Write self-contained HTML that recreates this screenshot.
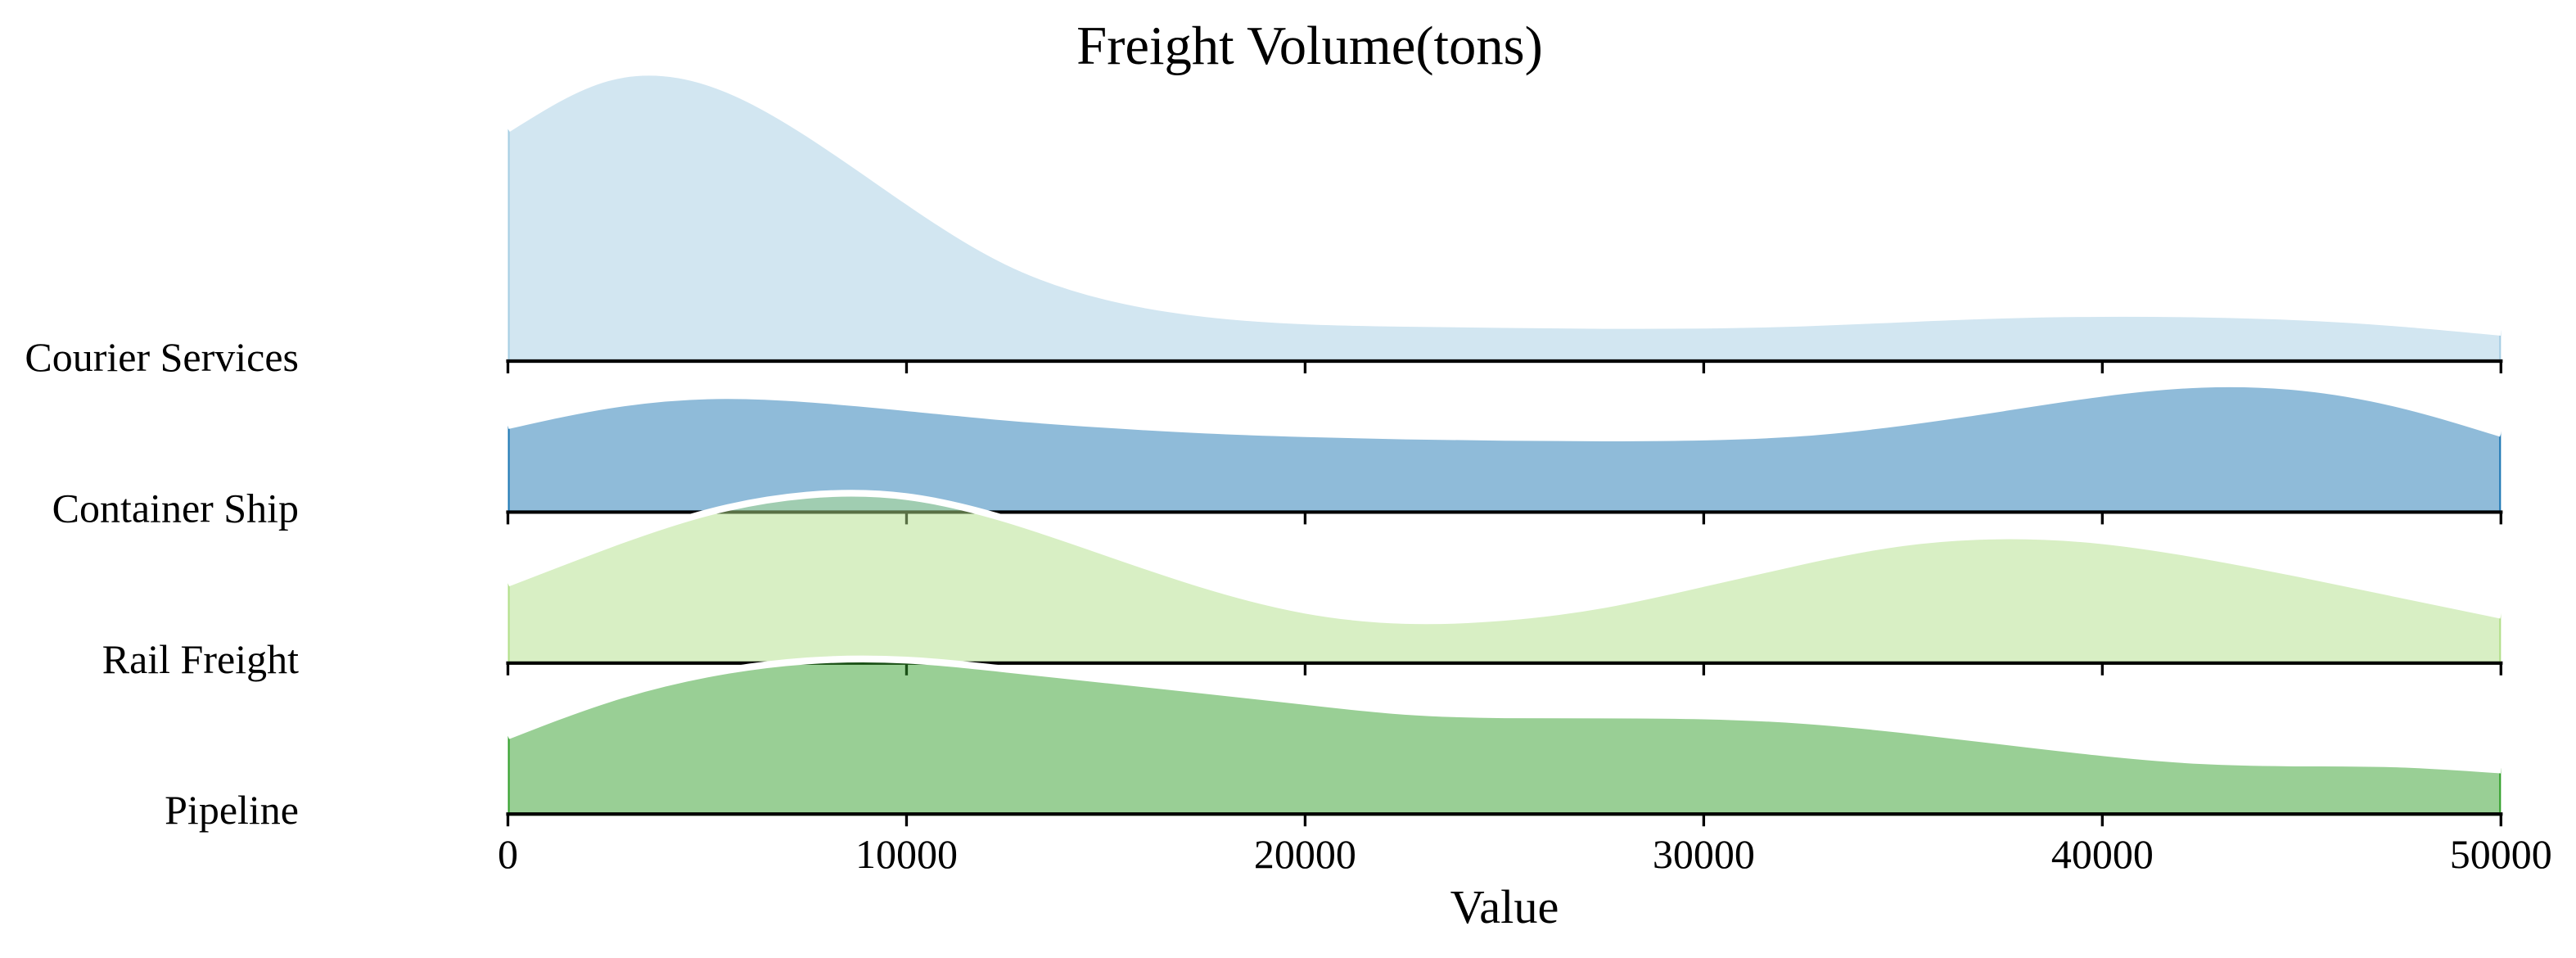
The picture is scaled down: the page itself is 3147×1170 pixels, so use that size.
<!DOCTYPE html>
<html lang="en">
<head>
<meta charset="utf-8">
<title>Freight Volume(tons)</title>
<style>
html,body{margin:0;padding:0;background:#fff;}
svg{display:block;}
text{font-family:"Liberation Serif","Times New Roman",serif;fill:#000;}
</style>
</head>
<body>
<svg id="chart" xmlns="http://www.w3.org/2000/svg" width="3147" height="1170" viewBox="0 0 3147 1170">
  <rect x="0" y="0" width="3147" height="1170" fill="#ffffff"/>
  <defs>
    <clipPath id="plot-clip"><rect x="620.5" y="0" width="2434.8" height="1170"/></clipPath>
  </defs>
  <text x="1600" y="78" text-anchor="middle" font-size="66.67">Freight Volume(tons)</text>
  <text x="1838" y="1127" text-anchor="middle" font-size="58.33">Value</text>
  <g id="plot"></g>
</svg>
<script>
// x grid of the density samples (tons)
const xGrid = [0,2500,5000,7500,10000,12500,15000,17500,20000,22500,25000,27500,30000,32500,35000,37500,40000,42500,45000,47500,50000];
const categories = ["Courier Services","Container Ship","Rail Freight","Pipeline"];
const seriesColors = ["#a6cee3","#1f78b4","#b2df8a","#33a02c"];
const xTicks = [0,10000,20000,30000,40000,50000];
// density values (x 10^-6)
const courierServices = [28.35,34.6,34.1,27.9,19.6,12.2,7.9,5.8,4.9,4.62,4.47,4.36,4.39,4.65,5.15,5.62,5.82,5.74,5.38,4.62,3.52];
const containerShip = [10.56,13.04,14.2,13.83,12.76,11.59,10.7,10.02,9.58,9.3,9.13,9.06,9.17,9.69,10.97,12.72,14.52,15.61,15.23,13.11,9.6];
const railFreight = [9.75,14.4,18.37,20.5,20.33,17.59,13.54,9.5,6.47,5.21,5.59,7.14,9.74,12.48,14.71,15.54,14.95,13.17,10.86,8.35,5.84];
const pipeline = [9.54,14.01,17.1,18.7,18.8,17.7,16.4,15.1,13.76,12.55,12.13,12.1,11.99,11.44,10.31,8.89,7.51,6.52,6.24,6.1,5.38];
const seriesValues = [courierServices,containerShip,railFreight,pipeline];

const NS = "http://www.w3.org/2000/svg";
const plot = document.getElementById("plot");
const X0 = 620.5, X1 = 3055.3, XMAX = 50000;
const BASE0 = 441, BASE_STEP = 184.4;
const PX_PER_UNIT = 10;
const TICK_LEN = 15, LW = 4.17, TICK_W = 3.33, WHITE_W = 8.33;

function xScale(v){ return X0 + (v / XMAX) * (X1 - X0); }
function baseline(i){ return BASE0 + i * BASE_STEP; }
function yScale(v, i){ return baseline(i) - v * PX_PER_UNIT; }

// natural cubic spline through the samples, emitted as Bezier segments
function curvePath(values, i){
  const px = xGrid.map(xScale);
  const py = values.map(function(v){ return yScale(v, i); });
  const n = px.length;
  const M = new Array(n).fill(0), c = new Array(n).fill(0), d = new Array(n).fill(0);
  for (let k = 1; k < n - 1; k++){
    const h0 = px[k] - px[k - 1], h1 = px[k + 1] - px[k];
    const rhs = 6 * ((py[k + 1] - py[k]) / h1 - (py[k] - py[k - 1]) / h0);
    const m = 2 * (h0 + h1) - h0 * c[k - 1];
    c[k] = h1 / m;
    d[k] = (rhs - h0 * d[k - 1]) / m;
  }
  for (let k = n - 2; k > 0; k--){
    M[k] = d[k] - c[k] * M[k + 1];
  }
  let path = "M" + px[0].toFixed(2) + " " + py[0].toFixed(2);
  for (let k = 0; k < n - 1; k++){
    const h = px[k + 1] - px[k];
    const s0 = (py[k + 1] - py[k]) / h - h * (2 * M[k] + M[k + 1]) / 6;
    const s1 = (py[k + 1] - py[k]) / h + h * (M[k] + 2 * M[k + 1]) / 6;
    path += "C" + (px[k] + h / 3).toFixed(2) + " " + (py[k] + s0 * h / 3).toFixed(2) + " " +
            (px[k + 1] - h / 3).toFixed(2) + " " + (py[k + 1] - s1 * h / 3).toFixed(2) + " " +
            px[k + 1].toFixed(2) + " " + py[k + 1].toFixed(2);
  }
  return path;
}
function slug(s){ return s.toLowerCase().replace(/\s+/g, "-"); }

categories.forEach(function(cat, i){
  const base = baseline(i);
  const key = slug(cat);
  const group = document.createElementNS(NS, "g");
  
  

  const line = curvePath(seriesValues[i], i);
  const outline = line + "L" + xScale(XMAX).toFixed(2) + " " + base + "L" + xScale(0).toFixed(2) + " " + base + "Z";

  const area = document.createElementNS(NS, "path");
  
  
  area.setAttribute("d", outline);
  area.setAttribute("fill", seriesColors[i]);
  area.setAttribute("fill-opacity", "0.5");
  area.setAttribute("stroke", seriesColors[i]);
  area.setAttribute("stroke-width", LW);
  area.setAttribute("clip-path", "url(#plot-clip)");
  group.appendChild(area);

  const crest = document.createElementNS(NS, "path");
  
  
  crest.setAttribute("d", line);
  crest.setAttribute("fill", "none");
  crest.setAttribute("stroke", "#ffffff");
  crest.setAttribute("stroke-width", WHITE_W);
  crest.setAttribute("clip-path", "url(#plot-clip)");
  group.appendChild(crest);

  xTicks.forEach(function(t){
    const tick = document.createElementNS(NS, "line");
    
    
    tick.setAttribute("x1", xScale(t));
    tick.setAttribute("x2", xScale(t));
    tick.setAttribute("y1", base);
    tick.setAttribute("y2", base + TICK_LEN);
    tick.setAttribute("stroke", "#000");
    tick.setAttribute("stroke-width", TICK_W);
    group.appendChild(tick);
  });

  const spine = document.createElementNS(NS, "line");
  
  
  spine.setAttribute("x1", X0);
  spine.setAttribute("x2", X1);
  spine.setAttribute("y1", base);
  spine.setAttribute("y2", base);
  spine.setAttribute("stroke", "#000");
  spine.setAttribute("stroke-width", LW);
  spine.setAttribute("stroke-linecap", "square");
  group.appendChild(spine);

  const label = document.createElementNS(NS, "text");
  
  
  label.setAttribute("x", 365);
  label.setAttribute("y", base + 12);
  label.setAttribute("text-anchor", "end");
  label.setAttribute("font-size", 50);
  label.textContent = cat;
  group.appendChild(label);

  plot.appendChild(group);
});

xTicks.forEach(function(t){
  const tl = document.createElementNS(NS, "text");
  
  
  tl.setAttribute("x", xScale(t));
  tl.setAttribute("y", 1060);
  tl.setAttribute("text-anchor", "middle");
  tl.setAttribute("font-size", 50);
  tl.textContent = String(t);
  plot.appendChild(tl);
});
</script>
</body>
</html>
